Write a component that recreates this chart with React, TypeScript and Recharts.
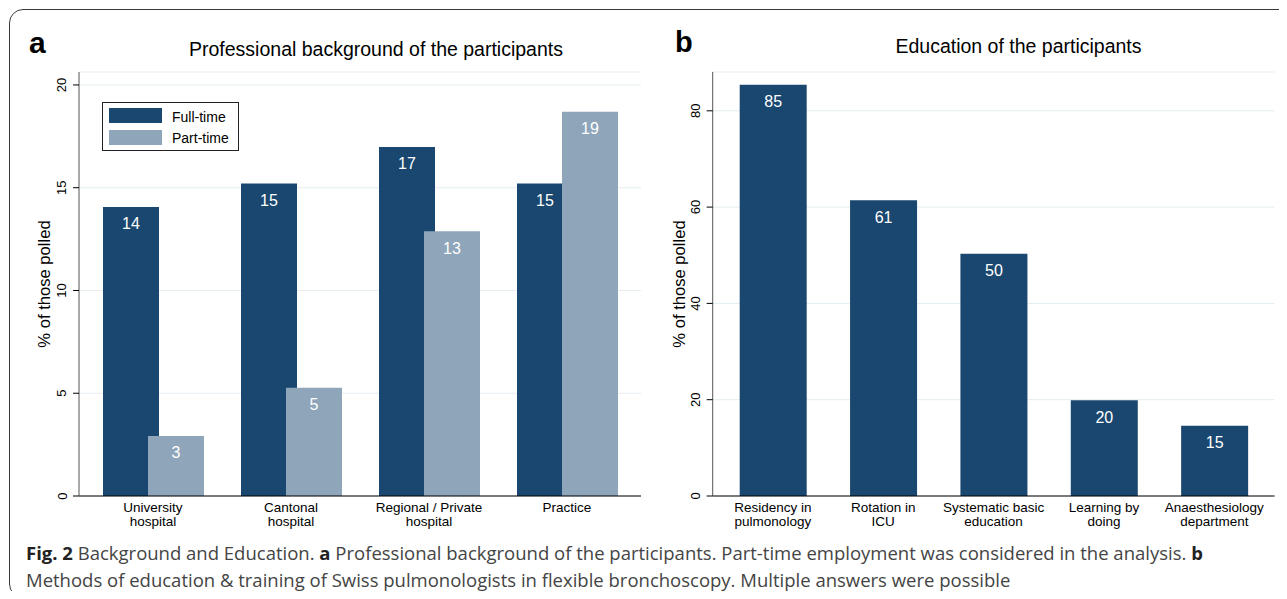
import React from "react";
import {
  BarChart,
  Bar,
  XAxis,
  YAxis,
  CartesianGrid,
  LabelList,
  Legend,
} from "recharts";

// panel a: professional background
const bgCategories = ["University\nhospital", "Cantonal\nhospital", "Regional / Private\nhospital", "Practice"];
const fullTime = [14.06, 15.2, 16.98, 15.2];
const partTime = [2.92, 5.27, 12.88, 18.7];
const bgTicks = [0, 5, 10, 15, 20];

// panel b: education
const eduCategories = [
  "Residency in\npulmonology",
  "Rotation in\nICU",
  "Systematic basic\neducation",
  "Learning by\ndoing",
  "Anaesthesiology\ndepartment",
];
const eduValues = [85.4, 61.4, 50.3, 19.9, 14.6];
const eduTicks = [0, 20, 40, 60, 80];

const NAVY = "#1a476f";
const GREY_BLUE = "#8ea5ba";
const GRID = "#e4edf0";
const FONT = '"Liberation Sans", Arial, Helvetica, sans-serif';
const CAPTION_FONT = '"Open Sans", "Noto Sans", sans-serif';

const bgData = bgCategories.map((name, i) => ({ name, full: fullTime[i], part: partTime[i] }));
const eduData = eduCategories.map((name, i) => ({ name, value: eduValues[i] }));

const round = (v: any) => Math.round(Number(v));

function YTick(props: any) {
  const { x, y, payload } = props;
  const tx = x - 4.5;
  return (
    <text x={tx} y={y} transform={`rotate(-90 ${tx} ${y})`} textAnchor="middle" fontSize={13} fill="#000" fontFamily={FONT}>
      {payload.value}
    </text>
  );
}

// two-line category labels, centred under each band
function XTick(props: any) {
  const { x, y, payload } = props;
  const lines = String(payload.value).split("\n");
  return (
    <text textAnchor="middle" fontSize={13.5} fill="#000" fontFamily={FONT}>
      {lines.map((l, i) => (
        <tspan key={i} x={x} y={y + 16 + i * 14}>
          {l}
        </tspan>
      ))}
    </text>
  );
}

function LegendBox() {
  return (
    <svg width={137} height={49} style={{ display: "block" }}>
      <rect x={0.5} y={0.5} width={136} height={48} fill="#fff" stroke="#222" strokeWidth={1} />
      <rect x={7} y={6} width={53} height={15} fill={NAVY} />
      <rect x={7} y={28} width={53} height={15} fill={GREY_BLUE} />
      <text x={70} y={19.5} fontSize={14} fontFamily={FONT} fill="#000">Full-time</text>
      <text x={70} y={40.5} fontSize={14} fontFamily={FONT} fill="#000">Part-time</text>
    </svg>
  );
}

export default function App() {
  return (
    <div style={{ position: "relative", width: 1287, height: 599, margin: -8, overflow: "hidden", background: "#fff" }}>
      <div
        style={{
          position: "absolute",
          left: 9,
          top: 9,
          width: 1320,
          height: 589,
          boxSizing: "border-box",
          border: "1.5px solid #3a3a3a",
          borderRadius: 14,
        }}
      />

      <div style={{ position: "absolute", left: 0, top: 0 }}>
        <BarChart
          width={660}
          height={540}
          data={bgData}
          margin={{ top: 72, right: 19, bottom: 0, left: 39 }}
          barSize={56}
          barGap={-11}
        >
          <CartesianGrid vertical={false} stroke={GRID} strokeWidth={1} />
          <XAxis
            dataKey="name"
            height={44}
            tickLine={false}
            tickSize={0}
            tickMargin={0}
            axisLine={{ stroke: "#000", strokeWidth: 1.2 }}
            padding={{ left: 5, right: 5 }}
            tick={<XTick />}
            interval={0}
          />
          <YAxis
            width={40}
            domain={[0, 20.63]}
            ticks={bgTicks}
            allowDataOverflow
            tickSize={6}
            axisLine={{ stroke: "#555", strokeWidth: 1 }}
            tickLine={{ stroke: "#000" }}
            tick={<YTick />}
          />
          <Legend
            layout="horizontal"
            verticalAlign="middle"
            align="center"
            content={() => <LegendBox />}
            wrapperStyle={{ left: 102, top: 102, width: 137, height: 49 }}
          />
          <Bar dataKey="full" name="Full-time" fill={NAVY} isAnimationActive={false}>
            <LabelList dataKey="full" position="insideTop" offset={11} formatter={round} fill="#fff" fontSize={16} fontFamily={FONT} />
          </Bar>
          <Bar dataKey="part" name="Part-time" fill={GREY_BLUE} isAnimationActive={false}>
            <LabelList dataKey="part" position="insideTop" offset={11} formatter={round} fill="#fff" fontSize={16} fontFamily={FONT} />
          </Bar>
        </BarChart>
      </div>

      <div style={{ position: "absolute", left: 640, top: 0 }}>
        <BarChart
          width={647}
          height={540}
          data={eduData}
          margin={{ top: 72, right: 12.5, bottom: 0, left: 32.7 }}
          barSize={67}
        >
          <CartesianGrid vertical={false} stroke={GRID} strokeWidth={1} />
          <XAxis
            dataKey="name"
            height={44}
            tickLine={false}
            tickSize={0}
            tickMargin={0}
            axisLine={{ stroke: "#000", strokeWidth: 1.2 }}
            padding={{ left: 5, right: 5 }}
            tick={<XTick />}
            interval={0}
          />
          <YAxis
            width={40}
            domain={[0, 88.06]}
            ticks={eduTicks}
            allowDataOverflow
            tickSize={6}
            axisLine={{ stroke: "#555", strokeWidth: 1 }}
            tickLine={{ stroke: "#000" }}
            tick={<YTick />}
          />
          <Bar dataKey="value" fill={NAVY} isAnimationActive={false}>
            <LabelList dataKey="value" position="insideTop" offset={11} formatter={round} fill="#fff" fontSize={16} fontFamily={FONT} />
          </Bar>
        </BarChart>
      </div>

      <svg width={1287} height={599} style={{ position: "absolute", left: 0, top: 0, pointerEvents: "none" }}>
        <g fontFamily={FONT} fill="#000">
          <text x={29} y={53} fontSize={30} fontWeight="bold">a</text>
          <text x={675} y={52} fontSize={29} fontWeight="bold">b</text>
          <text x={376} y={56} fontSize={19.5} textAnchor="middle">Professional background of the participants</text>
          <text x={1018.5} y={53} fontSize={19.5} textAnchor="middle">Education of the participants</text>
          <text x={44} y={284} fontSize={16.6} textAnchor="middle" dominantBaseline="central" transform="rotate(-90 44 284)">
            % of those polled
          </text>
          <text x={679} y={284} fontSize={16.6} textAnchor="middle" dominantBaseline="central" transform="rotate(-90 679 284)">
            % of those polled
          </text>
        </g>
        <g fontFamily={CAPTION_FONT} fontSize={18.5} fill="#444">
          <text x={26} y={560}>
            <tspan fontWeight="bold" fill="#222">Fig. 2</tspan> Background and Education. <tspan fontWeight="bold" fill="#222">a</tspan> Professional
            background of the participants. Part-time employment was considered in the analysis. <tspan fontWeight="bold" fill="#222">b</tspan>
          </text>
          <text x={26} y={587}>Methods of education &amp; training of Swiss pulmonologists in flexible bronchoscopy. Multiple answers were possible</text>
        </g>
      </svg>
    </div>
  );
}
